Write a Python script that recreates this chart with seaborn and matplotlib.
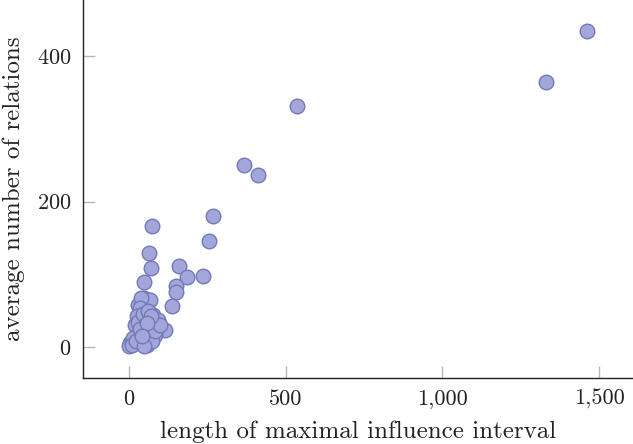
import seaborn as sns
import matplotlib.pyplot as plt
import pandas as pd
from matplotlib.ticker import FuncFormatter

# values
interval_len = [1460, 1331, 535, 367, 412, 270, 74, 257, 63, 160, 72, 187, 238, 49, 150,
                152, 47, 67, 28, 138, 39, 36, 78, 25, 52, 94, 115, 20, 62, 83, 31, 46, 4,
                0, 57, 15, 70, 88, 40, 55, 65, 75, 30, 45, 60, 10, 22, 50, 85, 100, 35,
                70, 58, 42]
avg_relations = [435, 365, 332, 250, 237, 180, 167, 146, 130, 112, 109, 96, 98, 89, 84,
                 76, 68, 65, 58, 56, 67, 53, 44, 42, 40, 37, 24, 30, 28, 17, 19, 10, 5,
                 1, 3, 12, 25, 32, 30, 20, 14, 8, 35, 45, 50, 3, 8, 2, 22, 30, 25,
                 42, 33, 15]

df = pd.DataFrame({'x': interval_len, 'y': avg_relations})

sns.set_style("white")
plt.rcParams['font.family'] = ['cmr10', 'DejaVu Serif']
plt.rcParams['axes.formatter.use_mathtext'] = True
plt.rcParams['mathtext.fontset'] = 'cm'

fig = plt.figure(figsize=(6.33, 4.44), dpi=100)
ax = fig.add_axes([82.7 / 633, 66 / 444, 1 - 82.7 / 633, 1 - 66 / 444])

sns.scatterplot(data=df, x='x', y='y', ax=ax, s=110, color='#a2a6da',
                edgecolor='#7378b8', linewidth=1.0, zorder=3)

ax.set_xlim(-147, 1608)
ax.set_ylim(-42.7, 477.5)
ax.set_xticks([0, 500, 1000, 1500])
ax.set_yticks([0, 200, 400])
ax.xaxis.set_major_formatter(FuncFormatter(lambda v, p: f"{int(v):,}"))

ax.tick_params(direction='in', length=8.5, width=1, color='#b8b8b8',
               labelsize=16, pad=8, labelcolor='#222222', bottom=True, left=True)
for side in ['top', 'right']:
    ax.spines[side].set_visible(False)
for side in ['left', 'bottom']:
    ax.spines[side].set_color('#222222')
    ax.spines[side].set_linewidth(1.0)

ax.set_xlabel('length of maximal influence interval', fontsize=18, labelpad=8, color='#222222')
ax.set_ylabel('average number of relations', fontsize=18, labelpad=9, color='#222222')

fig.savefig('out.png', dpi=100)
